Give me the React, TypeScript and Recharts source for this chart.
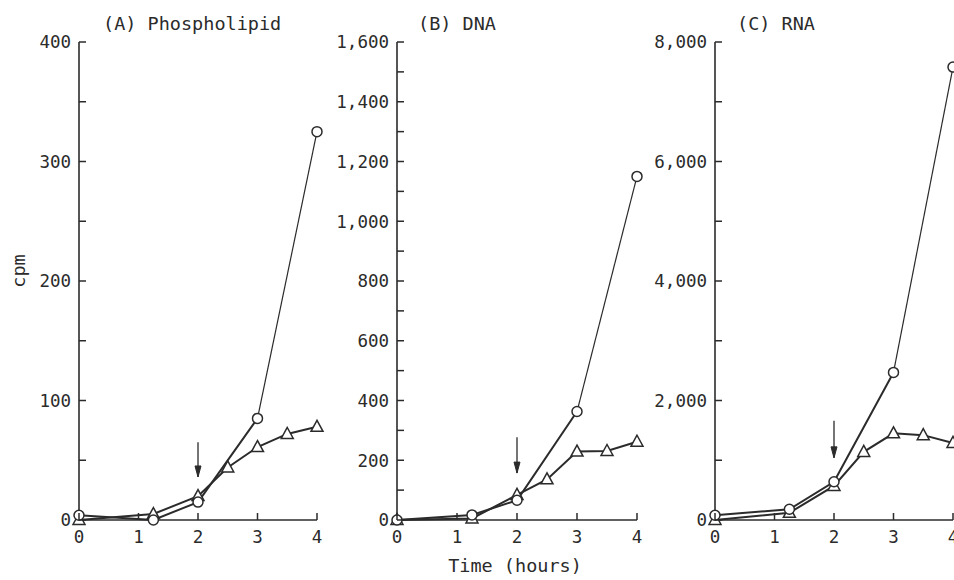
import React from 'react';
import { LineChart, Line, XAxis, YAxis } from 'recharts';

// sampling times (hours)
const circleHours = [0, 1.25, 2, 3, 4];
const triangleHours = [0, 1.25, 2, 2.5, 3, 3.5, 4];
const hourTicks = [0, 1, 2, 3, 4];
const arrowHour = 2;

// (A) phospholipid, cpm
const phosCircle = [4, 0, 15, 85, 325];
const phosTriangle = [0, 5, 20, 44, 61, 72, 78];
const phosArrow = [65, 36]; // shaft top, tip
const phosTicks = [0, 50, 100, 150, 200, 250, 300, 350, 400];

// (B) DNA, cpm
const dnaCircle = [0, 17, 66, 363, 1150];
const dnaTriangle = [0, 5, 84, 136, 229, 231, 262];
const dnaArrow = [277, 157];
const dnaTicks = [0, 100, 200, 300, 400, 500, 600, 700, 800, 900, 1000, 1100, 1200, 1300, 1400, 1500, 1600];

// (C) RNA, cpm
const rnaCircle = [80, 180, 640, 2470, 7580];
const rnaTriangle = [0, 120, 570, 1140, 1450, 1420, 1290];
const rnaArrow = [1660, 1040];
const rnaTicks = [0, 1000, 2000, 3000, 4000, 5000, 6000, 7000, 8000];

const FONT = '"DejaVu Sans Mono", "Liberation Mono", monospace';
const INK = '#2b2b2b';

const toPoints = (hours: number[], values: number[]) => hours.map((t, i) => ({ t, v: values[i] }));

const CircleDot = (p: any) => (
  <circle key={`c-${p.index}`} cx={p.cx} cy={p.cy} r={5} fill="#fff" stroke={INK} strokeWidth={1.5} />
);

const TriangleDot = (p: any) => (
  <path
    key={`t-${p.index}`}
    d={`M${p.cx},${p.cy - 6.5} L${p.cx - 6},${p.cy + 4.5} L${p.cx + 6},${p.cy + 4.5} Z`}
    fill="#fff"
    stroke={INK}
    strokeWidth={1.5}
  />
);

const LastCircleDot = (p: any) =>
  p.index === 1 ? <CircleDot {...p} /> : <g key={`e-${p.index}`} />;

const ArrowHead = (p: any) =>
  p.index === 1 ? (
    <path
      key="ah"
      d={`M${p.cx - 3},${p.cy - 11} L${p.cx},${p.cy} L${p.cx + 3},${p.cy - 11} Z`}
      fill={INK}
      stroke={INK}
      strokeWidth={1}
    />
  ) : (
    <g key="at" />
  );

// ticks point inward, labels only on every other tick
const makeYTick = (labelStep: number) => (props: any) => {
  const { x, y, payload } = props;
  const v = payload.value as number;
  const axisX = x + 8;
  return (
    <g>
      <line x1={axisX} x2={axisX + 7} y1={y} y2={y} stroke={INK} strokeWidth={1.5} />
      {v % labelStep === 0 && (
        <text x={x} y={y} dy="0.36em" textAnchor="end" fontFamily={FONT} fontSize={17.5} fill={INK}>
          {v.toLocaleString('en-US')}
        </text>
      )}
    </g>
  );
};

const XTick = (props: any) => {
  const { x, y, payload } = props;
  const axisY = y - 8;
  return (
    <g>
      <line x1={x} x2={x} y1={axisY} y2={axisY - 7} stroke={INK} strokeWidth={1.5} />
      <text x={x} y={axisY + 23} textAnchor="middle" fontFamily={FONT} fontSize={17.5} fill={INK}>
        {payload.value}
      </text>
    </g>
  );
};

interface PanelProps {
  left: number;
  width: number;
  yAxisWidth: number;
  rightMargin: number;
  yMax: number;
  yTicks: number[];
  labelStep: number;
  circle: number[];
  triangle: number[];
  arrow: number[];
}

const Panel: React.FC<PanelProps> = ({ left, width, yAxisWidth, rightMargin, yMax, yTicks, labelStep, circle, triangle, arrow }) => {
  const circleMain = toPoints(circleHours.slice(0, 4), circle.slice(0, 4));
  const circleEnd = toPoints(circleHours.slice(3), circle.slice(3));
  const tri = toPoints(triangleHours, triangle);
  const arrowPts = [
    { t: arrowHour, v: arrow[0] },
    { t: arrowHour, v: arrow[1] },
  ];
  return (
    <div style={{ position: 'absolute', left, top: 0 }}>
      <LineChart width={width} height={580} margin={{ top: 42, right: rightMargin, bottom: 30, left: 0 }}>
        <XAxis
          dataKey="t"
          type="number"
          domain={[0, 4]}
          ticks={hourTicks}
          interval={0}
          height={30}
          tickSize={0}
          tickMargin={8}
          tick={XTick}
          axisLine={{ stroke: INK, strokeWidth: 1.6 }}
        />
        <YAxis
          type="number"
          domain={[0, yMax]}
          ticks={yTicks}
          interval={0}
          width={yAxisWidth}
          tickSize={0}
          tickMargin={8}
          tick={makeYTick(labelStep)}
          axisLine={{ stroke: INK, strokeWidth: 1.6 }}
        />
        <Line data={arrowPts} dataKey="v" stroke={INK} strokeWidth={1.3} dot={ArrowHead} activeDot={false} isAnimationActive={false} />
        <Line data={tri} dataKey="v" type="linear" stroke={INK} strokeWidth={2} dot={TriangleDot} activeDot={false} isAnimationActive={false} />
        <Line data={circleEnd} dataKey="v" type="linear" stroke={INK} strokeWidth={1.2} dot={LastCircleDot} activeDot={false} isAnimationActive={false} />
        <Line data={circleMain} dataKey="v" type="linear" stroke={INK} strokeWidth={2} dot={CircleDot} activeDot={false} isAnimationActive={false} />
      </LineChart>
    </div>
  );
};

const titleStyle: React.CSSProperties = {
  position: 'absolute',
  top: 15,
  fontFamily: FONT,
  fontSize: 18.5,
  lineHeight: '18px',
  color: INK,
  whiteSpace: 'nowrap',
};

export default function App() {
  return (
    <div style={{ position: 'absolute', left: 0, top: 0, width: 954, height: 580, background: '#fff', overflow: 'hidden' }}>
      <Panel left={0} width={330} yAxisWidth={79} rightMargin={13} yMax={400} yTicks={phosTicks} labelStep={100}
        circle={phosCircle} triangle={phosTriangle} arrow={phosArrow} />
      <Panel left={320} width={330} yAxisWidth={77} rightMargin={13} yMax={1600} yTicks={dnaTicks} labelStep={200}
        circle={dnaCircle} triangle={dnaTriangle} arrow={dnaArrow} />
      <Panel left={640} width={314} yAxisWidth={75} rightMargin={1} yMax={8000} yTicks={rnaTicks} labelStep={2000}
        circle={rnaCircle} triangle={rnaTriangle} arrow={rnaArrow} />

      <div style={{ ...titleStyle, left: 103 }}>(A) Phospholipid</div>
      <div style={{ ...titleStyle, left: 418 }}>(B) DNA</div>
      <div style={{ ...titleStyle, left: 737 }}>(C) RNA</div>

      <div style={{ position: 'absolute', left: 19, top: 271, transform: 'translate(-50%, -50%) rotate(-90deg)', fontFamily: FONT, fontSize: 18.5, lineHeight: '20px', color: INK, whiteSpace: 'nowrap' }}>
        cpm
      </div>
      <div style={{ position: 'absolute', left: 515, top: 566, transform: 'translate(-50%, -50%)', fontFamily: FONT, fontSize: 18.5, lineHeight: '20px', color: INK, whiteSpace: 'nowrap' }}>
        Time (hours)
      </div>
    </div>
  );
}
